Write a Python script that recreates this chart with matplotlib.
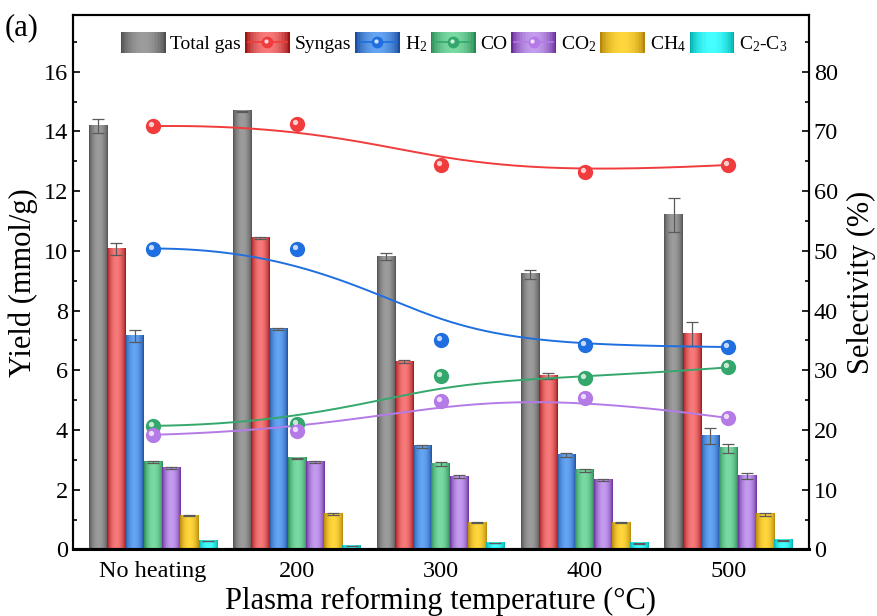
import numpy as np
import matplotlib
matplotlib.use('Agg')
from matplotlib import pyplot as plt
from matplotlib.colors import LinearSegmentedColormap, to_rgb
from matplotlib.legend_handler import HandlerBase
from matplotlib.patches import Rectangle, Patch
from matplotlib.lines import Line2D
from matplotlib.ticker import MultipleLocator
import matplotlib.transforms as mtransforms

plt.rcParams['font.family'] = ['Liberation Serif', 'DejaVu Serif']
plt.rcParams['mathtext.fontset'] = 'custom'
plt.rcParams['mathtext.rm'] = 'Liberation Serif'
plt.rcParams['mathtext.it'] = 'Liberation Serif:italic'
plt.rcParams['mathtext.default'] = 'regular'

temps = ['No heating', '200', '300', '400', '500']

# yields (mmol/g)
total_gas = [14.19, 14.68, 9.80, 9.22, 11.20]
syngas = [10.06, 10.43, 6.29, 5.81, 7.22]
h2 = [7.15, 7.38, 3.45, 3.17, 3.80]
co = [2.93, 3.05, 2.86, 2.66, 3.39]
co2 = [2.73, 2.93, 2.43, 2.33, 2.45]
ch4 = [1.13, 1.19, 0.90, 0.89, 1.18]
c2c3 = [0.29, 0.11, 0.22, 0.21, 0.31]

total_err = [0.23, 0.02, 0.12, 0.15, 0.56]
syngas_err = [0.20, 0.02, 0.05, 0.10, 0.40]
h2_err = [0.20, 0.03, 0.04, 0.06, 0.28]
co_err = [0.03, 0.02, 0.07, 0.05, 0.15]
co2_err = [0.03, 0.02, 0.05, 0.04, 0.10]
ch4_err = [0.02, 0.02, 0.02, 0.02, 0.05]
c2c3_err = [0.01, 0.01, 0.01, 0.01, 0.02]

# selectivity (%)
sel_syngas = [70.9, 71.2, 64.4, 63.2, 64.4]
sel_h2 = [50.4, 50.4, 35.0, 34.2, 33.9]
sel_co = [20.7, 21.0, 29.0, 28.7, 30.5]
sel_co2 = [19.2, 19.9, 24.9, 25.3, 22.0]

bar_series = [total_gas, syngas, h2, co, co2, ch4, c2c3]
bar_errs = [total_err, syngas_err, h2_err, co_err, co2_err, ch4_err, c2c3_err]
bar_shades = [('#4f4f4f', '#9c9c9c'),
              ('#9e1212', '#f77a7a'),
              ('#1b4d9c', '#64a4f2'),
              ('#288853', '#7adaa2'),
              ('#682a96', '#c39cee'),
              ('#b5860a', '#ffd63c'),
              ('#00aeae', '#44ffff')]
sel_series = [sel_syngas, sel_h2, sel_co, sel_co2]
sel_colors = ['#f03c3c', '#1f6fe0', '#34a86c', '#b47ae6']
labels = ['Total gas', 'Syngas', 'H$_2$', 'CO', 'CO$_2$', 'CH$_4$', 'C$_2$-C$_3$']


def shade_profile(n=64):
    t = np.linspace(0, 1, n)
    return np.sin(np.pi * t) ** 0.7


def shade_cmap(dark, light):
    return LinearSegmentedColormap.from_list('s', [dark, light])


def bspline(px, py, num=300):
    # clamped cubic B-spline using the points as control polygon
    p = np.column_stack([px, py]).astype(float)
    n = len(p)
    k = 3
    knots = np.concatenate([np.zeros(k), np.linspace(0, 1, n - k + 1), np.ones(k)])
    u = np.linspace(0, 1 - 1e-9, num)
    N = np.zeros((num, len(knots) - 1))
    for i in range(len(knots) - 1):
        N[:, i] = (u >= knots[i]) & (u < knots[i + 1])
    for d in range(1, k + 1):
        Nn = np.zeros((num, len(knots) - 1 - d))
        for i in range(len(knots) - 1 - d):
            a = knots[i + d] - knots[i]
            b = knots[i + d + 1] - knots[i + 1]
            t1 = (u - knots[i]) / a * N[:, i] if a > 0 else 0
            t2 = (knots[i + d + 1] - u) / b * N[:, i + 1] if b > 0 else 0
            Nn[:, i] = t1 + t2
        N = Nn
    c = N @ p
    c = np.vstack([c, p[-1]])
    return c[:, 0], c[:, 1]


class GradHandler(HandlerBase):
    def __init__(self, dark, light, line=None):
        super().__init__()
        self.dark, self.light, self.line = dark, light, line

    def create_artists(self, legend, orig_handle, xdescent, ydescent,
                       width, height, fontsize, trans):
        arts = []
        n = 30
        prof = shade_profile(n)
        d, l = np.array(to_rgb(self.dark)), np.array(to_rgb(self.light))
        x0 = -xdescent
        h = height * 1.3
        y0 = -ydescent - (h - height) / 2
        for i in range(n):
            col = d + (l - d) * prof[i]
            r = Rectangle((x0 + i * width / n, y0), width / n * 1.08, h,
                          facecolor=col, edgecolor='none', transform=trans)
            arts.append(r)
        if self.line is not None:
            ym = y0 + h / 2
            ln = Line2D([x0 + 2, x0 + width - 2], [ym, ym], color=self.line, lw=1.2,
                        transform=trans)
            mk = Line2D([x0 + width / 2], [ym], marker='o', ms=8.5, color=self.line,
                        mec='none', transform=trans)
            hl = Line2D([x0 + width / 2 - 1], [ym + 1], marker='o', ms=3, color='white',
                        alpha=0.8, mec='none', transform=trans)
            arts += [ln, mk, hl]
        return arts


fig = plt.figure(figsize=(8.78, 6.16), dpi=100)
ax = fig.add_axes([0.0831, 0.108, 0.8383, 0.8676])
ax2 = ax.twinx()

x = np.arange(len(temps))
w = 0.127
prof = shade_profile()[None, :]
for i, (vals, errs, (dk, lt)) in enumerate(zip(bar_series, bar_errs, bar_shades)):
    xs = x + (i - 3) * w
    bars = ax.bar(xs, vals, width=w, color=lt, edgecolor='none', zorder=2)
    for b in bars:
        bx, by = b.get_x(), b.get_height()
        ax.imshow(prof, cmap=shade_cmap(dk, lt), vmin=0, vmax=1, aspect='auto',
                  extent=(bx, bx + b.get_width(), 0, by), zorder=2.5,
                  interpolation='bilinear')
    ax.errorbar(xs, vals, yerr=errs, fmt='none', ecolor='#5a5a5a', elinewidth=0.9,
                capsize=4, capthick=0.9, zorder=3)

xs_line = x.astype(float)
for vals, col in zip(sel_series, sel_colors):
    cx, cy = bspline(xs_line, vals)
    ax2.plot(cx, cy, color=col, lw=1.4, zorder=3)
    ax2.plot(xs_line, vals, 'o', ms=11, color=col, mec='none', zorder=4)
    hl = mtransforms.offset_copy(ax2.transData, fig=fig, x=-2, y=2, units='dots')
    ax2.plot(xs_line, vals, 'o', ms=3.8, color='white', alpha=0.75, mec='none',
             transform=hl, zorder=5)

ax.set_xlim(-0.555, 4.56)
ax.set_ylim(0, 17.9)
ax2.set_ylim(0, 89.5)
ax.set_xticks(x)
ax.set_xticklabels(temps)
ax.tick_params(axis='x', length=0, labelsize=17.5, pad=8)
ax.yaxis.set_major_locator(MultipleLocator(2))
ax.yaxis.set_minor_locator(MultipleLocator(1))
ax2.yaxis.set_major_locator(MultipleLocator(10))
ax2.yaxis.set_minor_locator(MultipleLocator(5))
ax.tick_params(axis='y', which='major', direction='in', length=5, width=1.2, labelsize=17.5)
ax.tick_params(axis='y', which='minor', direction='in', length=3, width=1.2)
ax2.tick_params(axis='y', which='major', direction='in', length=5, width=1.2, labelsize=17.5)
ax2.tick_params(axis='y', which='minor', direction='in', length=3, width=1.2)
for a in (ax, ax2):
    for s in a.spines.values():
        s.set_linewidth(1.5)
ax.spines['bottom'].set_linewidth(2.2)

ax.set_xlabel('Plasma reforming temperature (°C)', fontsize=22, labelpad=4)
ax.set_ylabel('Yield (mmol/g)', fontsize=22, labelpad=4)
ax2.set_ylabel('Selectivity (%)', fontsize=22, labelpad=6)

handles, hmap = [], {}
line_for = {1: sel_colors[0], 2: sel_colors[1], 3: sel_colors[2], 4: sel_colors[3]}
for i, (dk, lt) in enumerate(bar_shades):
    hd = Patch()
    handles.append(hd)
    hmap[hd] = GradHandler(dk, lt, line_for.get(i))
ax2.legend(handles, labels, handler_map=hmap, ncol=7, loc='center',
           bbox_to_anchor=(0.518, 0.946), frameon=False, fontsize=14,
           handlelength=2.3, handleheight=0.9, handletextpad=0.25,
           columnspacing=0.2, borderaxespad=0)

fig.text(0.005, 0.955, '(a)', fontsize=22, va='center', ha='left')

plt.savefig('out.png', dpi=100)
